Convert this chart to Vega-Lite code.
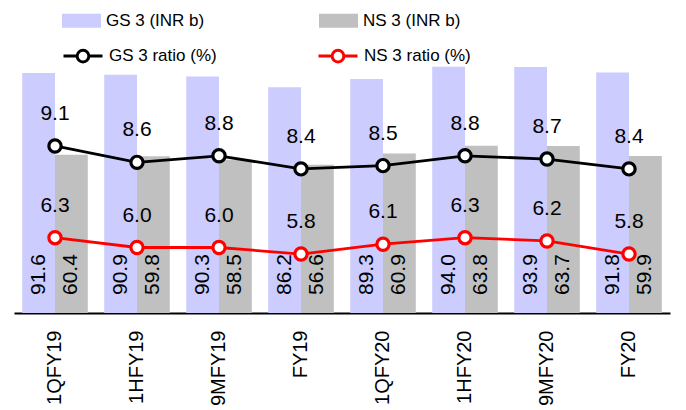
{
  "$schema": "https://vega.github.io/schema/vega-lite/v6.json",
  "width": 656,
  "height": 262,
  "autosize": {"type": "none"},
  "padding": {"left": 14, "top": 51, "right": 16, "bottom": 97},
  "background": "white",
  "config": {
    "view": {"stroke": null},
    "font": "Liberation Sans",
    "axis": {"grid": false}
  },
  "datasets": {
    "bars": [
      {"period": "1QFY19", "series": "GS 3 (INR b)", "value": 91.6},
      {"period": "1QFY19", "series": "NS 3 (INR b)", "value": 60.4},
      {"period": "1HFY19", "series": "GS 3 (INR b)", "value": 90.9},
      {"period": "1HFY19", "series": "NS 3 (INR b)", "value": 59.8},
      {"period": "9MFY19", "series": "GS 3 (INR b)", "value": 90.3},
      {"period": "9MFY19", "series": "NS 3 (INR b)", "value": 58.5},
      {"period": "FY19", "series": "GS 3 (INR b)", "value": 86.2},
      {"period": "FY19", "series": "NS 3 (INR b)", "value": 56.6},
      {"period": "1QFY20", "series": "GS 3 (INR b)", "value": 89.3},
      {"period": "1QFY20", "series": "NS 3 (INR b)", "value": 60.9},
      {"period": "1HFY20", "series": "GS 3 (INR b)", "value": 94.0},
      {"period": "1HFY20", "series": "NS 3 (INR b)", "value": 63.8},
      {"period": "9MFY20", "series": "GS 3 (INR b)", "value": 93.9},
      {"period": "9MFY20", "series": "NS 3 (INR b)", "value": 63.7},
      {"period": "FY20", "series": "GS 3 (INR b)", "value": 91.8},
      {"period": "FY20", "series": "NS 3 (INR b)", "value": 59.9}
    ],
    "ratios": [
      {"period": "1QFY19", "series": "GS 3 ratio (%)", "ratio": 9.1},
      {"period": "1HFY19", "series": "GS 3 ratio (%)", "ratio": 8.6},
      {"period": "9MFY19", "series": "GS 3 ratio (%)", "ratio": 8.8},
      {"period": "FY19", "series": "GS 3 ratio (%)", "ratio": 8.4},
      {"period": "1QFY20", "series": "GS 3 ratio (%)", "ratio": 8.5},
      {"period": "1HFY20", "series": "GS 3 ratio (%)", "ratio": 8.8},
      {"period": "9MFY20", "series": "GS 3 ratio (%)", "ratio": 8.7},
      {"period": "FY20", "series": "GS 3 ratio (%)", "ratio": 8.4},
      {"period": "1QFY19", "series": "NS 3 ratio (%)", "ratio": 6.3},
      {"period": "1HFY19", "series": "NS 3 ratio (%)", "ratio": 6.0},
      {"period": "9MFY19", "series": "NS 3 ratio (%)", "ratio": 6.0},
      {"period": "FY19", "series": "NS 3 ratio (%)", "ratio": 5.8},
      {"period": "1QFY20", "series": "NS 3 ratio (%)", "ratio": 6.1},
      {"period": "1HFY20", "series": "NS 3 ratio (%)", "ratio": 6.3},
      {"period": "9MFY20", "series": "NS 3 ratio (%)", "ratio": 6.2},
      {"period": "FY20", "series": "NS 3 ratio (%)", "ratio": 5.8}
    ]
  },
  "encoding": {
    "x": {
      "field": "period",
      "type": "nominal",
      "sort": ["1QFY19", "1HFY19", "9MFY19", "FY19", "1QFY20", "1HFY20", "9MFY20", "FY20"],
      "scale": {"paddingInner": 0.2, "paddingOuter": 0.1},
      "axis": {
        "title": null,
        "labelAngle": -90,
        "labelFontSize": 20,
        "labelFontWeight": "normal",
        "labelColor": "black",
        "labelPadding": 17,
        "ticks": false,
        "domainColor": "black",
        "domainWidth": 2
      }
    }
  },
  "layer": [
    {
      "data": {"name": "bars"},
      "encoding": {
        "xOffset": {"field": "series", "type": "nominal", "scale": {"paddingInner": 0, "paddingOuter": 0}}
      },
      "layer": [
        {
          "mark": {"type": "bar"},
          "encoding": {
            "y": {"field": "value", "type": "quantitative", "scale": {"domain": [0, 100], "nice": false}, "axis": null},
            "fill": {
              "field": "series",
              "type": "nominal",
              "scale": {"domain": ["GS 3 (INR b)", "NS 3 (INR b)"], "range": ["#CCCCFF", "#C0C0C0"]},
              "legend": {
                "title": null,
                "orient": "none",
                "legendX": 48,
                "legendY": -50,
                "direction": "horizontal",
                "columns": 2,
                "columnPadding": 114,
                "symbolType": "M-1,-0.36H1V0.36H-1Z",
                "symbolSize": 1521,
                "symbolStrokeWidth": 0,
                "labelFontSize": 17,
                "labelColor": "black",
                "labelOffset": 5,
                "labelFont": "Liberation Sans"
              }
            }
          }
        },
        {
          "mark": {"type": "text", "angle": -90, "align": "left", "baseline": "middle", "dx": 18, "fontSize": 21, "color": "black"},
          "encoding": {
            "y": {"datum": 0, "type": "quantitative"},
            "text": {"field": "value", "type": "quantitative", "format": ".1f"}
          }
        }
      ]
    },
    {
      "data": {"name": "ratios"},
      "encoding": {
        "y": {"field": "ratio", "type": "quantitative", "scale": {"domain": [4, 12], "nice": false}, "axis": null}
      },
      "layer": [
        {
          "mark": {"type": "line", "strokeWidth": 2.8},
          "encoding": {
            "stroke": {
              "field": "series",
              "type": "nominal",
              "scale": {"domain": ["GS 3 ratio (%)", "NS 3 ratio (%)"], "range": ["black", "red"]},
              "legend": {
                "title": null,
                "orient": "none",
                "legendX": 48,
                "legendY": -16,
                "direction": "horizontal",
                "columns": 2,
                "columnPadding": 95,
                "symbolType": "M-1,0H-0.3M0.3,0H1M-0.3,0A0.3,0.3,0,1,0,0.3,0A0.3,0.3,0,1,0,-0.3,0Z",
                "symbolSize": 1521,
                "symbolStrokeWidth": 3,
                "symbolFillColor": "white",
                "labelFontSize": 17,
                "labelColor": "black",
                "labelOffset": 5,
                "labelFont": "Liberation Sans"
              }
            }
          }
        },
        {
          "mark": {"type": "point", "filled": true, "fill": "white", "size": 150, "strokeWidth": 3.2, "opacity": 1},
          "encoding": {
            "stroke": {"field": "series", "type": "nominal", "legend": null}
          }
        },
        {
          "mark": {"type": "text", "dy": -32, "baseline": "middle", "fontSize": 21, "color": "black"},
          "encoding": {
            "text": {"field": "ratio", "type": "quantitative", "format": ".1f"}
          }
        }
      ]
    }
  ],
  "resolve": {"scale": {"y": "independent"}}
}
